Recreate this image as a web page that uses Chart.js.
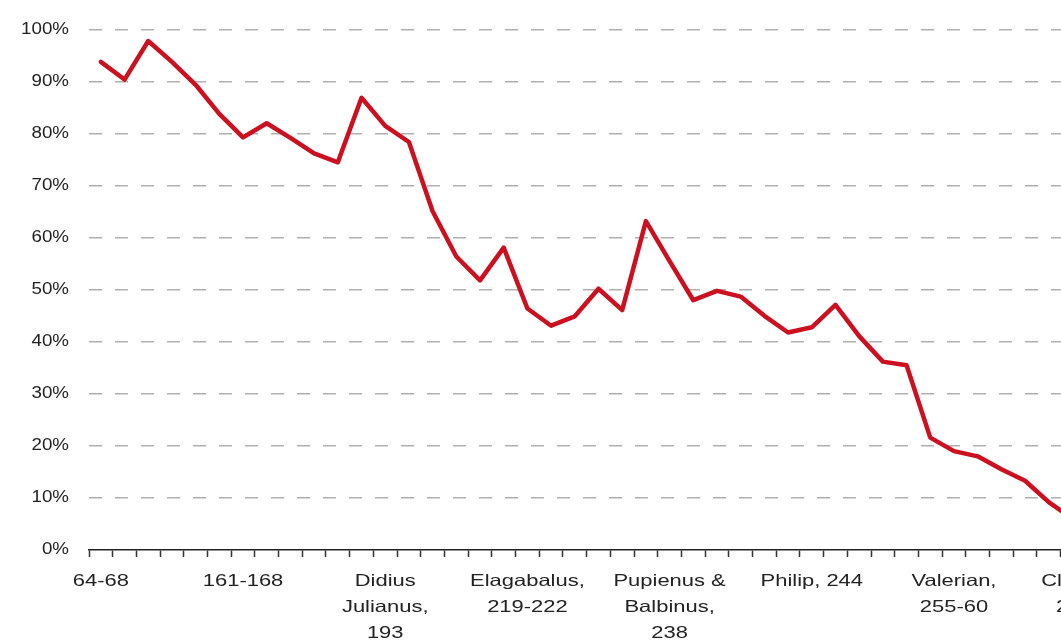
<!DOCTYPE html>
<html>
<head>
<meta charset="utf-8">
<script src="https://cdn.jsdelivr.net/npm/chart.js@4/dist/chart.umd.min.js"></script>
<style>
  html, body { margin: 0; padding: 0; background: #fff; overflow: hidden; }
  #wrap { width: 1061px; height: 643px; overflow: hidden; }
  #silver { display: block; }
</style>
</head>
<body>
<div id="wrap"><canvas id="silver" width="1200" height="643"></canvas></div>
<script>
// reign labels, one every six coin samples
const categories = [
  '64-68', '', '', '', '', '',
  '161-168', '', '', '', '', '',
  ['Didius', 'Julianus,', '193'], '', '', '', '', '',
  ['Elagabalus,', '219-222'], '', '', '', '', '',
  ['Pupienus &', 'Balbinus,', '238'], '', '', '', '', '',
  'Philip, 244', '', '', '', '', '',
  ['Valerian,', '255-60'], '', '', '', '', '',
  ['Claudius II,', '268-270']
];

// silver content of the denarius, percent
const silverShare = [
  93.8, 90.4, 97.8, 93.8, 89.4, 83.8,
  79.3, 82.0, 79.2, 76.2, 74.5, 86.9,
  81.5, 78.4, 65.1, 56.4, 51.8, 58.1,
  46.4, 43.1, 44.9, 50.2, 46.1, 63.2,
  55.5, 48.0, 49.8, 48.7, 45.0, 41.8,
  42.8, 47.1, 41.1, 36.2, 35.5, 21.6,
  19.0, 18.0, 15.5, 13.3, 9.2, 6.0
];

const yTicks = [0, 10, 20, 30, 40, 50, 60, 70, 80, 90, 100];

Chart.defaults.font.family = "'Liberation Sans', Arial, sans-serif";
Chart.defaults.font.size = 16;
Chart.defaults.color = '#222';

// the source picture is stretched sideways, so widen the label glyphs
const labelStretch = { x: 1.33, y: 1.17 };
const wideLabels = {
  id: 'wideLabels',
  afterLayout(chart) {
    Object.keys(labelStretch).forEach(id => {
      const s = chart.scales[id];
      if (!s || s._wide) return;
      const orig = s.drawLabels.bind(s);
      const k = labelStretch[id];
      s.drawLabels = area => {
        const ctx = chart.ctx;
        const fill = CanvasRenderingContext2D.prototype.fillText;
        ctx.fillText = function(t, x, y) {
          this.save();
          this.translate(x, y);
          this.scale(k, 1);
          fill.call(this, t, 0, 0);
          this.restore();
        };
        orig(area);
        delete ctx.fillText;
      };
      s._wide = true;
    });
  }
};

new Chart(document.getElementById('silver'), {
  type: 'line',
  data: {
    labels: categories,
    datasets: [{
      data: silverShare,
      borderColor: '#cc1020',
      borderWidth: 4.5,
      pointRadius: 0,
      tension: 0,
      borderJoinStyle: 'round',
      borderCapStyle: 'round'
    }]
  },
  plugins: [wideLabels],
  options: {
    responsive: false,
    animation: false,
    layout: { padding: { top: 22, right: 92, left: 0, bottom: 0 } },
    plugins: { legend: { display: false }, tooltip: { enabled: false } },
    scales: {
      x: {
        offset: true,
        grid: {
          offset: true,
          drawOnChartArea: false,
          drawTicks: true,
          tickLength: 7,
          tickColor: '#333',
          tickWidth: 1.5
        },
        border: { display: true, color: '#222', width: 1.5 },
        ticks: {
          autoSkip: false,
          maxRotation: 0,
          padding: 11,
          font: { size: 16.5, lineHeight: 26 / 16.5 }
        },
        afterFit: s => { s.height = 93; }
      },
      y: {
        min: 0,
        max: 100,
        afterBuildTicks: s => { s.ticks = yTicks.map(v => ({ value: v })); },
        grid: {
          drawTicks: false,
          color: c => c.tick && c.tick.value === 0 ? 'transparent' : '#b0b0b0',
          lineWidth: 1.5
        },
        border: { display: false, dash: [13, 13] },
        ticks: {
          padding: 20,
          callback: v => v + '%'
        },
        afterFit: s => { s.width = 89; }
      }
    }
  }
});
</script>
</body>
</html>
